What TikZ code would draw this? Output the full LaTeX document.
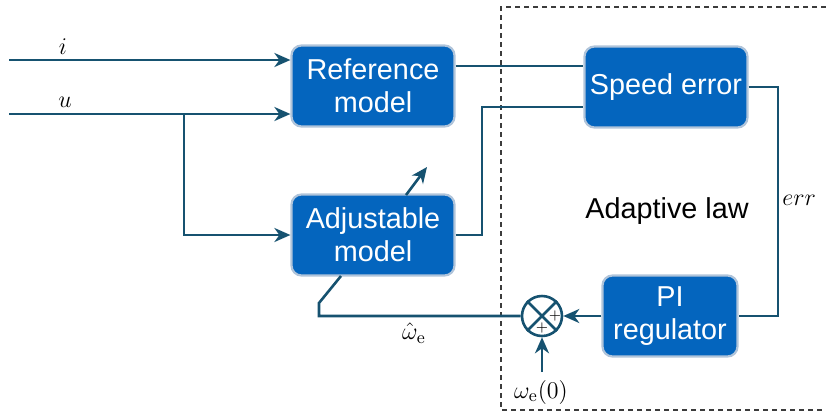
\documentclass[tikz,border=0pt]{standalone}
\usepackage{amsmath}
\usepackage{fontspec}
\newfontfamily\arialfont{Liberation Sans}
\usetikzlibrary{arrows.meta,positioning,calc}
\definecolor{boxBlue}{RGB}{4, 101, 190}
\definecolor{boxEdge}{RGB}{176, 196, 218}
\definecolor{wireTeal}{RGB}{22, 82, 112}
\definecolor{dashGrey}{RGB}{60, 60, 60}

\begin{document}
\begin{tikzpicture}[
    x=0.5pt, y=-0.5pt,
    block/.style={rectangle, rounded corners=5pt, draw=boxEdge, line width=1.1pt, fill=boxBlue, text=white,
        minimum width=81.5pt, minimum height=40.5pt, align=center, font=\arialfont\fontsize{14.4}{16.5}\selectfont, inner sep=1pt},
    wire/.style={draw=wireTeal, line width=1.3pt},
    arrow/.style={wire, -{Stealth[length=8pt, width=7pt, inset=2.5pt]}},
    sumc/.style={circle, draw=wireTeal, line width=1.3pt, minimum size=20pt, inner sep=0pt},
    label/.style={font=\fontsize{12.5}{14}\selectfont, inner sep=1pt}
]
\useasboundingbox (0,0) rectangle (826,414);

% Adaptive law frame (open on the right)
\draw[dashGrey, line width=0.7pt, dash pattern=on 2.5pt off 2pt] (826,7) -- (501,7) -- (501,410) -- (826,410);
\node[font=\arialfont\fontsize{14.4}{16.5}\selectfont] (law) at (667,211) {Adaptive law};

% Blocks
\node[block] (ref) at (373,86) {Reference\\model};
\node[block] (adj) at (373,235) {Adjustable\\model};
\node[block] (spd) at (666,87) {Speed error};
\node[block, minimum width=67.5pt] (pi) at (670,316) {PI\\regulator};
\node[sumc] (sum) at (542,316) {};
\draw[wireTeal, line width=1.3pt] (sum.north west) -- (sum.south east) (sum.north east) -- (sum.south west);
\node[font=\fontsize{7}{8}\selectfont, inner sep=0pt] (plusR) at (555,316) {$+$};
\node[font=\fontsize{7}{8}\selectfont, inner sep=0pt] (plusB) at (542,328) {$+$};

% Inputs
\coordinate (iin) at (9,60);
\coordinate (uin) at (9,114);
\coordinate (ubr) at (184,114);
\node[label] (ilab) at (63,47) {$i$};
\node[label] (ulab) at (65,102) {$u$};
\draw[arrow] (iin) -- (ref.west |- iin);
\draw[arrow] (uin) -- (ref.west |- uin);
\draw[arrow] (ubr) |- (adj.west);

% Model outputs to speed error
\coordinate (hi) at (482,66);
\coordinate (lo) at (482,107);
\draw[wire] (ref.east |- hi) -- (spd.west |- hi);
\draw[wire] (adj.east) -| (lo) -- (spd.west |- lo);

% Error to PI regulator
\coordinate (errc) at (778,200);
\draw[wire] (spd.east) -| (errc) |- (pi.east);
\node[label, right=1pt of errc] (errlab) {$err$};
\draw[arrow] (pi.west) -- (sum.east);

% Initial value
\coordinate (w0) at (542,372);
\node[label] (w0lab) at (541,392) {$\omega_{\mathrm{e}}(0)$};
\draw[arrow] (w0) -- (sum.south);

% Feedback of estimated speed
\coordinate (fbc) at (319,303);
\coordinate (fbe) at (341,276);
\draw[wire] (sum.west) -| (fbc) -- (fbe);
\node[label] (whlab) at (414,333) {$\hat{\omega}_{\mathrm{e}}$};

% Adjustment arrow
\coordinate (pa) at (406,195);
\coordinate (pb) at (427,167);
\draw[arrow] (pa) -- (pb);
\end{tikzpicture}
\end{document}
